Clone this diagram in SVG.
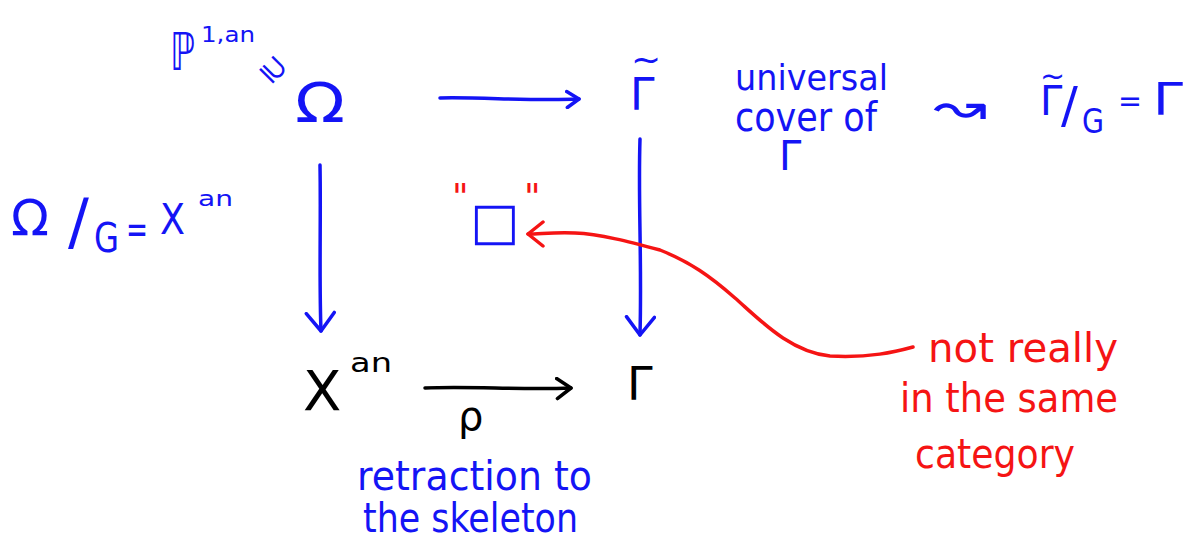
<svg xmlns="http://www.w3.org/2000/svg" width="1199" height="551" viewBox="0 0 1199 551">
<style>
text{font-family:"DejaVu Sans","Liberation Sans",sans-serif;}
.b{fill:#1414f5}
.r{fill:#f51414}
.k{fill:#000}
.lb,.lr,.lk{fill:none;stroke-width:3.5;stroke-linecap:round;stroke-linejoin:round}
.lb{stroke:#1414f5}
.lr{stroke:#f51414}
.lk{stroke:#000}
</style>
<defs>
<marker id="hbv" viewBox="0 0 22 32" refX="20" refY="16" markerWidth="22" markerHeight="32" markerUnits="userSpaceOnUse" orient="auto"><path d="M2,2 L20,16 L2,30" class="lb"/></marker>
<marker id="hbs" viewBox="0 0 16 20" refX="14" refY="10" markerWidth="16" markerHeight="20" markerUnits="userSpaceOnUse" orient="auto"><path d="M2,2 L14,10 L2,18" class="lb"/></marker>
<marker id="hk" viewBox="0 0 18 24" refX="16" refY="12" markerWidth="18" markerHeight="24" markerUnits="userSpaceOnUse" orient="auto"><path d="M2,2 L16,12 L2,22" class="lk"/></marker>
<marker id="hr" viewBox="0 0 19 28" refX="17" refY="14" markerWidth="19" markerHeight="28" markerUnits="userSpaceOnUse" orient="auto"><path d="M2,2 L17,14 L2,26" class="lr"/></marker>
</defs>
<rect width="1199" height="551" fill="#fff"/>

<g id="connectors">
<path class="lb" d="M440,98 C480,97 530,101 579,99" marker-end="url(#hbs)"/>
<path class="lb" d="M320,165 C321,220 319,280 321,331" marker-end="url(#hbv)"/>
<path class="lb" d="M640,139 C638,200 642,260 640,335" marker-end="url(#hbv)"/>
<path class="lk" d="M425,388 C470,386 520,390 571,388" marker-end="url(#hk)"/>
<path class="lr" d="M913,347 C895,352 870,358 830,356 C790,352 760,320 735,298 C710,276 690,262 660,250 C630,242 600,234 575,233 C555,232 540,234 528,234" marker-end="url(#hr)"/>
</g>

<g id="node-P1an">
<text class="b" x="170" y="70" font-size="52" textLength="25" lengthAdjust="spacingAndGlyphs">ℙ</text>
<text class="b" x="201" y="42" font-size="22" textLength="54" lengthAdjust="spacingAndGlyphs">1,an</text>
<text class="b" font-size="32" text-anchor="middle" dominant-baseline="central" transform="translate(274,69) rotate(45)">⊇</text>
</g>

<g id="node-Omega">
<text class="b" x="295" y="122" font-size="55" textLength="50" lengthAdjust="spacingAndGlyphs">Ω</text>
</g>

<g id="node-GammaTilde">
<text class="b"><tspan x="631" y="72" font-size="36">~</tspan><tspan x="630" y="110" font-size="44">Γ</tspan></text>
</g>

<g id="label-universal-cover">
<text class="b" x="735" y="90" font-size="36" textLength="153" lengthAdjust="spacingAndGlyphs">universal</text>
<text class="b" x="735" y="131" font-size="40" textLength="142" lengthAdjust="spacingAndGlyphs">cover of</text>
<text class="b" x="779" y="170" font-size="40">Γ</text>
</g>

<g id="label-quotient">
<text class="b" x="933" y="124" font-size="50" textLength="54" lengthAdjust="spacingAndGlyphs">↝</text>
<text class="b"><tspan x="1040" y="86" font-size="30">~</tspan><tspan x="1040" y="115" font-size="40">Γ</tspan></text>
<text class="b" x="1061" y="122" font-size="50">/</text>
<text class="b" x="1082" y="133" font-size="34" textLength="22" lengthAdjust="spacingAndGlyphs">G</text>
<text class="b" x="1118" y="111" font-size="30" textLength="24" lengthAdjust="spacingAndGlyphs">=</text>
<text class="b" x="1153" y="115" font-size="44" textLength="30" lengthAdjust="spacingAndGlyphs">Γ</text>
</g>

<g id="label-Omega-G">
<text class="b" x="11" y="235" font-size="50" textLength="38" lengthAdjust="spacingAndGlyphs">Ω</text>
<text class="b" x="68" y="243" font-size="62">/</text>
<text class="b" x="94" y="252" font-size="40" textLength="25" lengthAdjust="spacingAndGlyphs">G</text>
<text class="b" x="126" y="243" font-size="40" textLength="22" lengthAdjust="spacingAndGlyphs">=</text>
<text class="b" x="160" y="234" font-size="42" textLength="25" lengthAdjust="spacingAndGlyphs">X</text>
<text class="b" x="198" y="206" font-size="22" textLength="35" lengthAdjust="spacingAndGlyphs">an</text>
</g>

<g id="node-square">
<text x="452" y="209" font-size="36" class="r">"</text>
<text class="b" x="470" y="239" font-size="52">□</text>
<text x="524" y="209" font-size="36" class="r">"</text>
</g>

<g id="node-Xan">
<text class="k" x="303" y="410" font-size="56">X</text>
<text class="k" x="350" y="372" font-size="26" textLength="42" lengthAdjust="spacingAndGlyphs">an</text>
</g>

<g id="node-Gamma">
<text class="k" x="627" y="400" font-size="46">Γ</text>
</g>

<g id="label-rho">
<text class="k" x="458" y="430" font-size="40">ρ</text>
<text class="b" x="357" y="490" font-size="40" textLength="235" lengthAdjust="spacingAndGlyphs">retraction to</text>
<text class="b" x="363" y="532" font-size="40" textLength="215" lengthAdjust="spacingAndGlyphs">the skeleton</text>
</g>

<g id="label-not-really">
<text class="r" x="928" y="362" font-size="40" textLength="190" lengthAdjust="spacingAndGlyphs">not really</text>
<text class="r" x="900" y="412" font-size="40" textLength="218" lengthAdjust="spacingAndGlyphs">in the same</text>
<text class="r" x="915" y="468" font-size="40" textLength="160" lengthAdjust="spacingAndGlyphs">category</text>
</g>
</svg>
